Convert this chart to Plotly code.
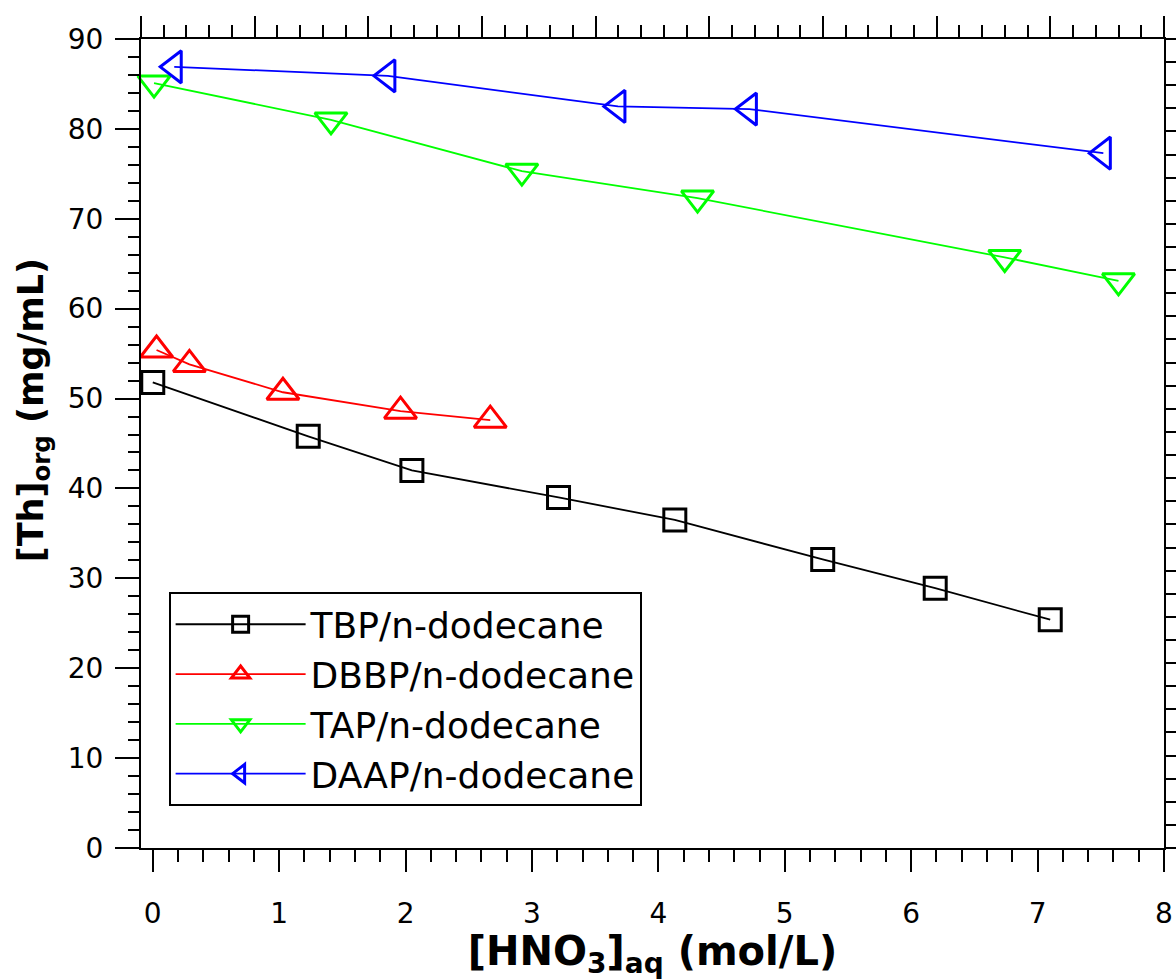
import plotly.graph_objects as go

# Data
tbp_x = [0.0, 1.23, 2.05, 3.21, 4.13, 5.30, 6.19, 7.10]
tbp_y = [51.8, 45.8, 42.0, 39.0, 36.5, 32.1, 28.9, 25.4]

dbbp_x = [0.03, 0.29, 1.03, 1.96, 2.67]
dbbp_y = [55.4, 53.8, 50.7, 48.6, 47.6]

tap_x = [0.01, 1.41, 2.92, 4.31, 6.74, 7.64]
tap_y = [85.1, 81.0, 75.3, 72.3, 65.7, 63.1]

daap_x = [0.17, 1.86, 3.68, 4.72, 7.52]
daap_y = [86.9, 85.9, 82.5, 82.2, 77.3]

names = ["TBP/n-dodecane", "DBBP/n-dodecane", "TAP/n-dodecane", "DAAP/n-dodecane"]
colors = ["#000000", "#FF0000", "#00FF00", "#0000FF"]
symbols = ["square-open", "triangle-up-open", "triangle-down-open", "triangle-left-open"]
sizes = [22, 28, 28, 28]

FONT = "DejaVu Sans"

fig = go.Figure()
for xs, ys, name, col, sym, sz in zip(
    [tbp_x, dbbp_x, tap_x, daap_x],
    [tbp_y, dbbp_y, tap_y, daap_y],
    names, colors, symbols, sizes,
):
    fig.add_trace(go.Scatter(
        x=xs, y=ys, name=name, mode="lines+markers",
        line=dict(color=col, width=1.8),
        marker=dict(symbol=sym, size=sz, color=col, line=dict(color=col, width=3)),
        cliponaxis=False,
    ))

# empty trace so the secondary (tick-only) axes exist
fig.add_trace(go.Scatter(x=[], y=[], xaxis="x2", yaxis="y2", showlegend=False, hoverinfo="skip"))

fig.update_layout(
    template="none",
    width=1176, height=980,
    margin=dict(l=141, r=12, t=39, b=132, autoexpand=False),
    paper_bgcolor="white", plot_bgcolor="white",
    font=dict(family=FONT, size=28, color="black"),
    showlegend=True,
    legend=dict(
        x=0.027, y=0.316, xanchor="left", yanchor="top",
        bgcolor="white", bordercolor="black", borderwidth=2,
        font=dict(family=FONT, size=36, color="black"),
        itemwidth=130, tracegroupgap=0,
    ),
    xaxis=dict(
        range=[-0.093, 8.0], tickmode="linear", tick0=0, dtick=1,
        ticks="outside", ticklen=22, tickwidth=2, tickcolor="black",
        showline=True, linecolor="black", linewidth=2, mirror=True,
        showgrid=False, zeroline=False, automargin=False,
        minor=dict(dtick=0.2, tick0=0, ticks="outside", ticklen=12, tickwidth=2, tickcolor="black", showgrid=False),
        tickfont=dict(family=FONT, size=28),
        ticklabelstandoff=17,
        title=dict(text="<b>[HNO<sub>3</sub>]<sub>aq</sub> (mol/L)</b>", font=dict(family=FONT, size=40), standoff=26),
    ),
    yaxis=dict(
        range=[0, 90], tickmode="linear", tick0=0, dtick=10,
        ticks="outside", ticklen=24, tickwidth=2, tickcolor="black",
        showline=True, linecolor="black", linewidth=2, mirror=True,
        showgrid=False, zeroline=False, automargin=False,
        minor=dict(dtick=2, tick0=0, ticks="outside", ticklen=11, tickwidth=2, tickcolor="black", showgrid=False),
        tickfont=dict(family=FONT, size=28),
        ticklabelstandoff=6,
        title=dict(text="&nbsp;&nbsp;&nbsp;&nbsp;&nbsp;&nbsp;<b>[Th]<sub>org</sub> (mg/mL)</b>", font=dict(family=FONT, size=35), standoff=14),
    ),
    xaxis2=dict(
        overlaying="x", side="top", anchor="y", range=[0, 9],
        tickmode="linear", tick0=0, dtick=1,
        ticks="outside", ticklen=22, tickwidth=2, tickcolor="black",
        showticklabels=False, showgrid=False, zeroline=False, showline=False, automargin=False,
        minor=dict(dtick=0.2, tick0=0, ticks="outside", ticklen=13, tickwidth=2, tickcolor="black", showgrid=False),
    ),
    yaxis2=dict(
        overlaying="y", side="right", anchor="x", range=[0, 35],
        tickmode="linear", tick0=0, dtick=1,
        ticks="outside", ticklen=11, tickwidth=2, tickcolor="black",
        showticklabels=False, showgrid=False, zeroline=False, showline=False, automargin=False,
    ),
)

fig.write_html("out.html")
